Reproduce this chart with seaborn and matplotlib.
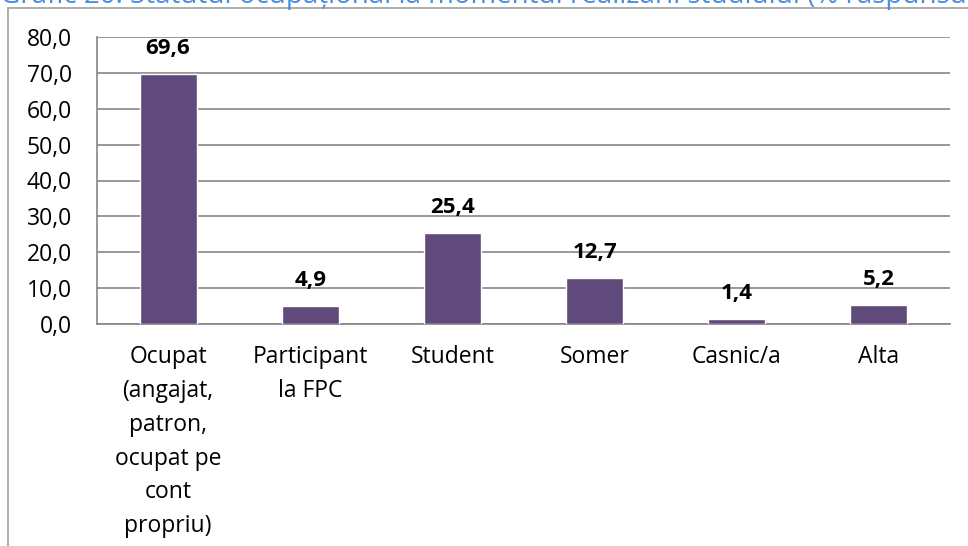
import matplotlib
matplotlib.use("Agg")
import matplotlib.pyplot as plt
import seaborn as sns
import pandas as pd
from matplotlib.lines import Line2D

# data
categories = ["Ocupat\n(angajat,\npatron,\nocupat pe\ncont\npropriu)",
              "Participant\nla FPC", "Student", "Somer", "Casnic/a", "Alta"]
values = [69.6, 4.9, 25.4, 12.7, 1.4, 5.2]
yticks = [0, 10, 20, 30, 40, 50, 60, 70, 80]

title = "Grafic 20. Statutul ocupațional la momentul realizării studiului (% răspunsuri)"

df = pd.DataFrame({"cat": categories, "val": values})

sns.set_style("white")
plt.rcParams['font.family'] = ['Open Sans', 'DejaVu Sans']
plt.rcParams['text.color'] = 'black'
plt.rcParams['xtick.labelcolor'] = 'black'
plt.rcParams['ytick.labelcolor'] = 'black'

fig = plt.figure(figsize=(9.68, 5.46), dpi=100)
ax = fig.add_axes([97/968, 1 - 324/546, (950 - 97)/968, (324 - 37)/546])

sns.barplot(data=df, x="cat", y="val", color="#604a7b", width=0.4,
            saturation=1, ax=ax, zorder=3)

gray = "#868686"
ax.set_xlim(-0.5, 5.5)
ax.set_ylim(0, 80)
ax.set_yticks(yticks)
ax.set_yticklabels([f"{v:.1f}".replace(".", ",") for v in yticks], fontsize=16.5)
ax.yaxis.grid(True, color=gray, linewidth=1.2, zorder=0)
ax.set_xlabel("")
ax.set_ylabel("")

for s in ["top", "right"]:
    ax.spines[s].set_visible(False)
for s in ["left", "bottom"]:
    ax.spines[s].set_color(gray)
    ax.spines[s].set_linewidth(1.2)

ax.tick_params(axis="y", length=6, color=gray, width=1.2, pad=12, labelcolor="black")
ax.tick_params(axis="x", which="major", length=0, pad=15, labelsize=16.5,
               labelcolor="black")
ax.set_xticks([i + 0.5 for i in range(-1, 6)], minor=True)
ax.tick_params(axis="x", which="minor", length=7, color=gray, width=1.2)
for lbl in ax.get_xticklabels():
    lbl.set_linespacing(1.55)
    lbl.set_verticalalignment("top")

ax.bar_label(ax.containers[0], labels=[f"{v:.1f}".replace(".", ",") for v in values],
             padding=11, fontsize=16, fontweight="bold", color="black")

# outer chart frame (partly cut off)
fig.add_artist(Line2D([8/968, 8/968], [0, 1 - 8/546], color="#a0a0a0", lw=1.2,
                      transform=fig.transFigure))
fig.add_artist(Line2D([8/968, 1], [1 - 8/546, 1 - 8/546], color="#a0a0a0", lw=1.2,
                      transform=fig.transFigure))

# title, mostly cut at the top edge
fig.text(0.0, 1 - 2.5/546, title, color="#4a8fdc", fontsize=20,
         ha="left", va="baseline")

fig.savefig("out.png", dpi=100)
